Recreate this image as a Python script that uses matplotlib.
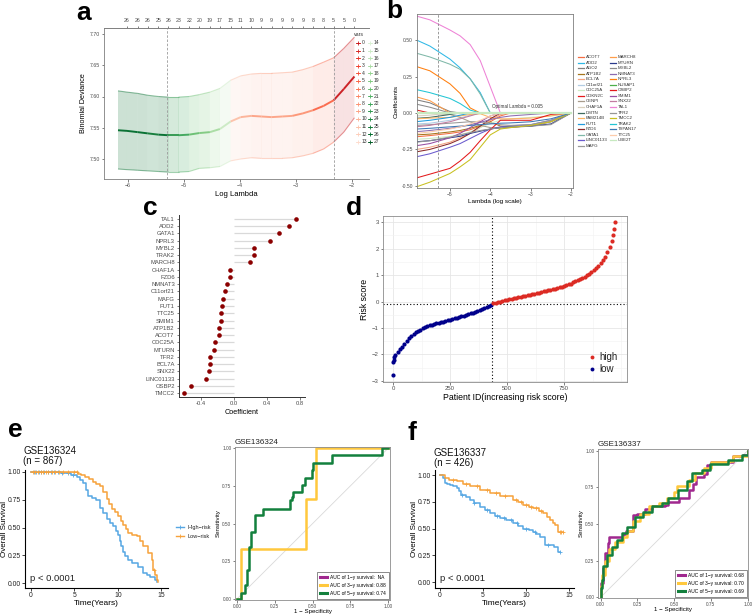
import numpy as np
import matplotlib
matplotlib.use('Agg')
import matplotlib.pyplot as plt
from matplotlib.collections import LineCollection
from matplotlib.lines import Line2D
from matplotlib.ticker import MultipleLocator

plt.rcParams['font.family'] = ['Liberation Sans', 'DejaVu Sans']
plt.rcParams['axes.unicode_minus'] = True

W, H = 752, 615
GRAY_TXT = '#4D4D4D'
GRAY_AX = '#7F7F7F'

# ─── Data: panel a (CV deviance) ─────────────────────────────────────────────
A_LOGLAM = [-6.18, -6.02, -5.83, -5.65, -5.46, -5.28, -5.10, -4.91, -4.73, -4.54, -4.36, -4.17,
            -3.99, -3.80, -3.62, -3.44, -3.25, -3.07, -2.88, -2.70, -2.51, -2.33, -2.15, -1.96]
A_NVARS = [26, 26, 26, 25, 26, 23, 22, 20, 19, 17, 15, 11, 10, 9, 9, 9, 9, 8, 8, 5, 5, 0, 0]
A_TOP_LABELS = [26, 26, 26, 25, 26, 23, 22, 20, 19, 17, 15, 11, 10, 9, 9, 9, 9, 9, 8, 8, 5, 5, 0]
A_MEAN = [7.546, 7.545, 7.543, 7.541, 7.539, 7.538, 7.538, 7.539, 7.5415, 7.543, 7.548, 7.560,
          7.567, 7.569, 7.568, 7.567, 7.568, 7.569, 7.573, 7.578, 7.585, 7.594, 7.612, 7.632]
A_UPPER = [7.609, 7.607, 7.605, 7.602, 7.600, 7.599, 7.599, 7.600, 7.603, 7.607, 7.613, 7.626,
           7.633, 7.636, 7.637, 7.637, 7.638, 7.639, 7.643, 7.648, 7.655, 7.662, 7.677, 7.695]
A_LOWER = [7.484, 7.483, 7.482, 7.481, 7.480, 7.479, 7.479, 7.480, 7.485, 7.486, 7.488, 7.497,
           7.500, 7.502, 7.501, 7.501, 7.501, 7.502, 7.505, 7.509, 7.516, 7.527, 7.543, 7.566]
A_VLINES = [-5.30, -2.33]

# ─── Data: panel b (coefficient paths) ───────────────────────────────────────
B_LOGLAM = [-5.82, -5.5, -5.0, -4.75, -4.5, -4.25, -4.0, -3.75, -3.5, -3.0, -2.5, -2.0]
B_GENES = ['ACOT7', 'ADD2', 'AGO2', 'ATP1B2', 'BCL7A', 'C11orf21', 'CDC25A', 'CDKN2C', 'CENPI',
           'CHAF1A', 'DMTN', 'FAM214B', 'FUT1', 'FZD6', 'GATA1', 'LINC01133', 'MAFG',
           'MARCH8', 'MTURN', 'MYBL2', 'NMNAT3', 'NPRL3', 'NUSAP1', 'OSBP2', 'SMIM1', 'SNX22',
           'TAL1', 'TFR2', 'TMCC2', 'TRAK2', 'TSPAN17', 'TTC25', 'UBE2T']
B_COLORS = ['#F46D43', '#2EB8E6', '#7F7F7F', '#A6761D', '#F4A582', '#B3CDE3', '#CCEBC5', '#E41A1C',
            '#A89C8C', '#D9D0BE', '#3F6B5E', '#FDB462', '#1F9BDE', '#8B2A2A', '#7FB8A8', '#6A5ACD',
            '#999999', '#FF9E4A', '#2B3A8C', '#8C8C8C', '#8C6BB1', '#FF7F0E', '#4DAF4A', '#E31A1C',
            '#984EA3', '#C27BA0', '#EE82D6', '#969696', '#C8C020', '#22C5D4', '#3C78B4', '#FDCDAC',
            '#C7E9C0']
B_PATHS = [
    [-0.163, -0.155, -0.14, -0.13, -0.115, -0.09, -0.06, -0.02, 0, 0, 0, 0],          # ACOT7
    [0.50, 0.46, 0.37, 0.31, 0.235, 0.14, 0.0, 0, 0, 0, 0, 0],                         # ADD2
    [0.09, 0.07, 0.01, 0, 0, 0, 0, 0, 0, 0, 0, 0],                                     # AGO2
    [-0.15, -0.145, -0.13, -0.12, -0.105, -0.085, -0.06, -0.09, -0.095, -0.09, -0.06, 0],  # ATP1B2
    [-0.25, -0.235, -0.20, -0.17, -0.14, -0.10, -0.05, -0.01, 0, 0, 0, 0],             # BCL7A
    [-0.075, -0.07, -0.05, -0.035, -0.015, 0, 0, 0, 0, 0, 0, 0],                       # C11orf21
    [-0.18, -0.175, -0.16, -0.15, -0.13, -0.10, -0.07, -0.05, -0.04, -0.03, -0.02, 0],  # CDC25A
    [0.02, 0, 0, 0, 0, 0, 0, 0, 0, 0, 0, 0],                                           # CDKN2C
    [0, 0, -0.01, -0.03, -0.06, -0.085, -0.10, -0.105, -0.10, -0.09, -0.06, 0],        # CENPI
    [-0.02, -0.015, 0, 0, 0, 0, 0, 0, 0, 0, 0, 0],                                     # CHAF1A
    [-0.036, -0.03, -0.01, 0, 0, 0, 0, 0, 0, 0, 0, 0],                                 # DMTN
    [-0.04, -0.035, -0.03, -0.02, -0.01, -0.005, -0.03, -0.04, -0.04, -0.035, -0.02, 0],  # FAM214B
    [-0.059, -0.05, -0.03, -0.015, 0, 0, 0, 0, 0, 0, 0, 0],                            # FUT1
    [-0.266, -0.25, -0.21, -0.18, -0.14, -0.09, -0.04, 0, 0, 0, 0, 0],                 # FZD6
    [0.41, 0.385, 0.335, 0.30, 0.235, 0.13, 0.0, 0, 0, 0, 0, 0],                       # GATA1
    [-0.30, -0.28, -0.235, -0.21, -0.175, -0.14, -0.11, -0.095, -0.088, -0.08, -0.05, 0],  # LINC01133
    [-0.085, -0.08, -0.07, -0.065, -0.06, -0.06, -0.07, -0.08, -0.085, -0.08, -0.05, 0],  # MAFG
    [0.11, 0.085, 0.0, 0, 0, 0, 0, 0, 0, 0, 0, 0],                                     # MARCH8
    [-0.197, -0.19, -0.17, -0.16, -0.14, -0.125, -0.11, -0.10, -0.095, -0.09, -0.075, 0],  # MTURN
    [0.06, 0.04, 0.0, 0, 0, 0, 0, 0, 0, 0, 0, 0],                                      # MYBL2
    [-0.128, -0.12, -0.105, -0.095, -0.08, -0.065, -0.045, -0.03, -0.02, -0.01, 0, 0],  # NMNAT3
    [0.318, 0.29, 0.20, 0.135, 0.035, 0, 0, 0, 0, 0, 0, 0],                            # NPRL3
    [0, 0, 0, 0, 0, 0, 0, 0, 0, 0, 0, 0],                                              # NUSAP1
    [-0.445, -0.42, -0.38, -0.33, -0.27, -0.19, -0.115, -0.05, -0.05, -0.05, -0.01, 0],  # OSBP2
    [-0.224, -0.21, -0.17, -0.14, -0.10, -0.06, -0.02, 0, 0, 0, 0, 0],                 # SMIM1
    [-0.094, -0.085, -0.06, -0.04, -0.02, 0, 0, 0, 0, 0, 0, 0],                        # SNX22
    [0.665, 0.64, 0.57, 0.53, 0.47, 0.36, 0.18, 0.0, 0, 0, 0, 0],                      # TAL1
    [-0.20, -0.19, -0.165, -0.15, -0.135, -0.12, -0.11, -0.10, -0.095, -0.09, -0.08, 0],  # TFR2
    [-0.506, -0.475, -0.415, -0.37, -0.32, -0.235, -0.15, -0.11, -0.10, -0.085, -0.06, 0],  # TMCC2
    [0.16, 0.14, 0.10, 0.065, 0.02, 0, 0, 0, 0, 0, 0, 0],                              # TRAK2
    [-0.11, -0.105, -0.095, -0.09, -0.085, -0.08, -0.075, -0.07, -0.068, -0.06, -0.04, 0],  # TSPAN17
    [-0.14, -0.13, -0.11, -0.095, -0.075, -0.05, -0.02, 0, 0, 0, 0, 0],                # TTC25
    [0, 0, 0, 0, 0, 0, 0, 0, 0, 0, 0, 0],                                              # UBE2T
]
B_OPT_LOGLAM = -5.30

# ─── Data: panel c (final coefficients) ──────────────────────────────────────
C_GENES = ['TAL1', 'ADD2', 'GATA1', 'NPRL3', 'MYBL2', 'TRAK2', 'MARCH8', 'CHAF1A', 'FZD6',
           'NMNAT3', 'C11orf21', 'MAFG', 'FUT1', 'TTC25', 'SMIM1', 'ATP1B2', 'ACOT7', 'CDC25A',
           'MTURN', 'TFR2', 'BCL7A', 'SNX22', 'LINC01133', 'OSBP2', 'TMCC2']
C_COEF = [0.748, 0.67, 0.54, 0.436, 0.246, 0.242, 0.19, -0.048, -0.052, -0.081, -0.109, -0.137,
          -0.145, -0.154, -0.158, -0.178, -0.186, -0.23, -0.242, -0.287, -0.29, -0.30, -0.34,
          -0.52, -0.606]

# ─── Data: panel d (risk score) ──────────────────────────────────────────────
D_LOW_ID = [0, 2, 4, 6, 10, 20, 30, 40, 50, 60, 70, 80, 90, 100, 110, 120, 130, 140, 150, 160,
            170, 180, 190, 200, 210, 220, 230, 240, 250, 260, 270, 280, 290, 300, 310, 320, 330,
            340, 350, 360, 370, 380, 390, 400, 410, 420, 430]
D_LOW_SCORE = [-2.77, -2.30, -2.20, -2.10, -2.01, -1.90, -1.81, -1.70, -1.59, -1.48, -1.38, -1.29,
               -1.22, -1.16, -1.11, -1.06, -1.01, -0.97, -0.93, -0.90, -0.87, -0.84, -0.82, -0.80,
               -0.78, -0.76, -0.74, -0.71, -0.69, -0.66, -0.64, -0.61, -0.59, -0.56, -0.54, -0.51,
               -0.48, -0.45, -0.42, -0.39, -0.35, -0.32, -0.28, -0.25, -0.21, -0.17, -0.12]
D_HIGH_ID = [440, 450, 460, 470, 480, 490, 500, 510, 520, 530, 540, 550, 560, 570, 580, 590, 600,
             610, 620, 630, 640, 650, 660, 670, 680, 690, 700, 710, 720, 730, 740, 750, 760, 770,
             780, 790, 800, 810, 820, 830, 840, 850, 860, 870, 880, 890, 900, 910, 920, 930, 940,
             950, 960, 965, 970, 974]
D_HIGH_SCORE = [-0.06, -0.04, -0.02, 0.0, 0.02, 0.04, 0.06, 0.08, 0.10, 0.12, 0.14, 0.16, 0.18,
                0.20, 0.22, 0.24, 0.26, 0.28, 0.30, 0.32, 0.34, 0.36, 0.38, 0.40, 0.42, 0.44,
                0.46, 0.48, 0.51, 0.53, 0.56, 0.59, 0.62, 0.65, 0.68, 0.72, 0.76, 0.80, 0.84,
                0.89, 0.94, 0.99, 1.05, 1.11, 1.18, 1.26, 1.35, 1.45, 1.57, 1.70, 1.86, 2.05,
                2.30, 2.50, 2.75, 3.00]
D_CUT_ID = 434
D_CUT_SCORE = -0.08

# ─── Data: panels e/f (Kaplan-Meier) ─────────────────────────────────────────
E_HIGH_T = [0, 3.5, 4.1, 4.6, 5.25, 5.6, 6.0, 6.3, 6.6, 7.0, 7.5, 7.9, 8.3, 8.7, 9.1, 9.46, 9.8,
            10.0, 10.2, 10.4, 10.6, 10.8, 11.2, 11.6, 12.3, 12.9, 13.3, 13.7, 14.25, 14.5]
E_HIGH_S = [1, 0.995, 0.99, 0.975, 0.958, 0.93, 0.90, 0.84, 0.78, 0.765, 0.75, 0.675, 0.63, 0.58,
            0.545, 0.51, 0.47, 0.43, 0.38, 0.33, 0.28, 0.24, 0.21, 0.18, 0.147, 0.087, 0.07, 0.057,
            0.027, 0.01]
E_LOW_T = [0, 5.44, 5.8, 6.2, 6.7, 7.16, 7.5, 7.9, 8.3, 8.7, 9.0, 9.27, 9.6, 10.0, 10.3, 10.6,
           10.9, 11.2, 11.6, 12.15, 12.5, 12.9, 13.4, 13.87, 14.06, 14.3, 14.45, 14.6]
E_LOW_S = [1, 0.985, 0.97, 0.958, 0.935, 0.91, 0.89, 0.87, 0.82, 0.76, 0.71, 0.67, 0.64, 0.60,
           0.56, 0.52, 0.49, 0.45, 0.43, 0.42, 0.38, 0.33, 0.27, 0.21, 0.117, 0.07, 0.03, 0.01]
E_CENS_HIGH = [0.3, 0.6, 0.9, 1.2, 1.5, 1.9, 2.3, 2.7, 3.1, 3.6, 4.2, 4.8]
E_CENS_LOW = [0.2, 0.5, 0.8, 1.1, 1.4, 1.7, 2.0, 2.4, 2.8, 3.2, 3.7, 4.3, 4.9, 5.3, 14.1]

F_HIGH_T = [0, 0.39, 0.58, 0.8, 1.16, 1.5, 1.94, 2.2, 2.5, 3.0, 3.5, 4.0, 4.65, 5.2, 5.8, 6.4, 7.0,
            7.7, 8.5, 9.1, 9.7, 10.3, 10.85, 11.2, 11.6, 12.2, 13.2, 13.75, 14.0]
F_HIGH_S = [1, 0.97, 0.925, 0.915, 0.91, 0.895, 0.88, 0.85, 0.815, 0.79, 0.77, 0.74, 0.705, 0.675,
            0.645, 0.62, 0.60, 0.575, 0.55, 0.525, 0.50, 0.485, 0.47, 0.45, 0.425, 0.347, 0.33,
            0.284, 0.284]
F_LOW_T = [0, 0.58, 1.0, 1.94, 2.7, 3.5, 4.65, 5.8, 7.0, 8.5, 9.1, 9.7, 10.3, 10.85, 11.5, 12.0,
           12.4, 12.8, 13.1, 13.4, 13.75, 14.3]
F_LOW_S = [1, 0.97, 0.955, 0.94, 0.915, 0.893, 0.86, 0.83, 0.80, 0.77, 0.745, 0.72, 0.705, 0.69,
           0.665, 0.645, 0.61, 0.58, 0.555, 0.53, 0.47, 0.47]
F_CENS_HIGH = [2.6, 4.0, 5.5, 6.6, 7.4, 8.2, 9.0, 10.0, 11.0, 12.6, 13.9]
F_CENS_LOW = [1.5, 3.0, 4.3, 5.5, 6.5, 7.6, 8.8, 9.4, 10.0, 10.6, 11.2, 11.8, 13.9, 14.1, 14.3]

# ─── Data: panels e/f (time-dependent ROC, step corners) ─────────────────────
E_ROC3_FPR = [0, 0.03, 0.46, 0.52, 1.0]
E_ROC3_TPR = [0, 0.333, 0.667, 1.0, 1.0]
E_ROC5_FPR = [0, 0.03, 0.053, 0.068, 0.079, 0.093, 0.119, 0.174, 0.35, 0.362, 0.373, 0.432, 0.45,
              0.499, 0.505, 0.63, 0.96, 1.0]
E_ROC5_TPR = [0, 0.042, 0.093, 0.19, 0.347, 0.447, 0.557, 0.60, 0.657, 0.68, 0.712, 0.756, 0.80,
              0.856, 0.90, 0.955, 1.0, 1.0]
E_AUC = ['NA', '0.88', '0.74']

F_ROC1_FPR = [0, 0.005, 0.015, 0.03, 0.05, 0.06, 0.13, 0.15, 0.17, 0.22, 0.25, 0.30, 0.35, 0.44,
              0.46, 0.53, 0.60, 0.63, 0.65, 0.70, 0.72, 0.75, 0.88, 0.90, 0.97, 1.0]
F_ROC1_TPR = [0, 0.10, 0.20, 0.30, 0.37, 0.41, 0.41, 0.43, 0.45, 0.56, 0.57, 0.60, 0.62, 0.63,
              0.65, 0.68, 0.73, 0.77, 0.82, 0.84, 0.90, 0.92, 0.92, 0.96, 0.97, 1.0]
F_ROC3_FPR = [0, 0.005, 0.01, 0.03, 0.06, 0.10, 0.15, 0.18, 0.22, 0.27, 0.33, 0.40, 0.45, 0.50,
              0.52, 0.56, 0.60, 0.64, 0.70, 0.75, 0.87, 0.90, 1.0, 1.0]
F_ROC3_TPR = [0, 0.08, 0.15, 0.25, 0.33, 0.38, 0.41, 0.45, 0.52, 0.57, 0.62, 0.64, 0.68, 0.72,
              0.76, 0.76, 0.80, 0.85, 0.88, 0.92, 0.93, 0.96, 0.97, 1.0]
F_ROC5_FPR = [0, 0.003, 0.007, 0.018, 0.04, 0.075, 0.109, 0.143, 0.177, 0.233, 0.29, 0.347, 0.415,
              0.46, 0.528, 0.585, 0.62, 0.687, 0.744, 0.868, 0.96, 1.0]
F_ROC5_TPR = [0, 0.06, 0.118, 0.21, 0.29, 0.345, 0.39, 0.436, 0.48, 0.55, 0.58, 0.62, 0.64, 0.675,
              0.73, 0.79, 0.845, 0.87, 0.91, 0.935, 0.97, 1.0]
F_AUC = ['0.68', '0.70', '0.69']

KM_BLUE = '#56A7E3'
KM_ORANGE = '#F7A23B'
ROC_PURPLE = '#A0288F'
ROC_YELLOW = '#FFC83D'
ROC_GREEN = '#13803D'


# ─── Helpers ─────────────────────────────────────────────────────────────────

def px_axes(fig, x0, y0, x1, y1):
    """Axes placed by pixel box (top-left origin)."""
    return fig.add_axes([x0 / W, 1 - y1 / H, (x1 - x0) / W, (y1 - y0) / H])


def style_small(ax, size=4.0, color=GRAY_AX):
    for s in ax.spines.values():
        s.set_color(color)
        s.set_linewidth(0.6)
    ax.tick_params(labelsize=size, colors=GRAY_TXT, length=1.8, width=0.5, pad=1.2)


def nvars_color(n):
    if n <= 13:
        return plt.cm.Reds(0.75 - n * 0.047)
    return plt.cm.Greens(0.18 + (n - 14) * 0.058)


def step_value(times, surv, t):
    idx = np.searchsorted(times, t, side='right') - 1
    return np.asarray(surv)[idx]


# ─── Panels ──────────────────────────────────────────────────────────────────

def panel_a(fig, ov):
    ax = px_axes(fig, 104, 28, 369, 179)
    lam = np.array(A_LOGLAM)
    knot_n = [26] + A_NVARS
    cols = [nvars_color(n) for n in knot_n]
    for i in range(len(lam) - 1):
        alpha = 0.2 if knot_n[i + 1] >= 14 else 0.12
        ax.fill_between(lam[i:i + 2], A_LOWER[i:i + 2], A_UPPER[i:i + 2],
                        color=cols[i + 1], alpha=alpha, lw=0, edgecolor='none')
    for series, lw, al in [(A_UPPER, 0.8, 0.45), (A_LOWER, 0.8, 0.45), (A_MEAN, 1.4, 0.95)]:
        pts = np.column_stack([lam, series])
        segs = np.stack([pts[:-1], pts[1:]], axis=1)
        ax.add_collection(LineCollection(segs, colors=cols[1:], linewidths=lw, alpha=al))
    for v in A_VLINES:
        ax.axvline(v, color='#9A9A9A', lw=0.6, ls=(0, (3, 2)))
    ax.set_xlim(-6.43, -1.70)
    ax.set_ylim(7.468, 7.7096)
    ax.set_xticks([-6, -5, -4, -3, -2])
    ax.set_yticks([7.50, 7.55, 7.60, 7.65, 7.70])
    ax.set_yticklabels(['7.50', '7.55', '7.60', '7.65', '7.70'])
    ax.set_xlabel('Log Lambda', fontsize=5.5, labelpad=2)
    ax.set_ylabel('Binomial Deviance', fontsize=5.2, labelpad=2)
    style_small(ax, 3.8)
    ax.spines['right'].set_visible(False)
    top = ax.secondary_xaxis('top')
    top.set_xticks(A_LOGLAM[1:])
    top.set_xticklabels([str(v) for v in A_TOP_LABELS])
    top.tick_params(labelsize=3.8, colors=GRAY_TXT, length=1.8, width=0.5, pad=1.5)
    top.spines['top'].set_color(GRAY_AX)
    top.spines['top'].set_linewidth(0.6)

    # legend "vars"
    ov.text(354, 35, 'vars', fontsize=3.8, color='#333333', va='center')
    for i in range(14):
        y = 43 + 7.6 * i
        for n, xm in [(i, 358), (i + 14, 370)]:
            c = nvars_color(n)
            ov.plot([xm - 2.2, xm + 2.2], [y, y], color=c, lw=0.6)
            ov.plot([xm], [y], marker='+', color=c, ms=2.6, mew=0.6)
            ov.text(xm + 4, y, str(n), fontsize=3.6, color='#333333', va='center')


def panel_b(fig, ov):
    ax = px_axes(fig, 417, 14, 573, 188)
    for gene, col, path in zip(B_GENES, B_COLORS, B_PATHS):
        lw = 1.6 if gene == 'UBE2T' else 0.75
        ax.plot(B_LOGLAM, path, color=col, lw=lw, zorder=3 if gene == 'UBE2T' else 2)
    ax.axvline(B_OPT_LOGLAM, color='#8A8A8A', lw=0.6, ls=(0, (3, 2)))
    ax.text(-3.96, 0.035, 'Optimal Lambda = 0.005', fontsize=3.3, color='#333333')
    ax.set_xlim(-5.818, -1.95)
    ax.set_ylim(-0.515, 0.68)
    ax.set_xticks([-5, -4, -3, -2])
    ax.set_yticks([-0.5, -0.25, 0, 0.25, 0.5])
    ax.set_yticklabels(['-0.50', '-0.25', '0.00', '0.25', '0.50'])
    ax.set_xlabel('Lambda (log scale)', fontsize=4.6, labelpad=1.5)
    ax.set_ylabel('Coefficients', fontsize=4.6, labelpad=2)
    style_small(ax, 3.6)

    # two-column legend
    half = 17
    for i, (gene, col) in enumerate(zip(B_GENES, B_COLORS)):
        colx = 578 if i < half else 610
        row = i if i < half else i - half
        y = 57 + 5.56 * row
        ov.plot([colx, colx + 6], [y, y], color=col, lw=0.9)
        ov.text(colx + 8, y, gene, fontsize=3.2, color='#333333', va='center')


def panel_c(fig):
    ax = px_axes(fig, 179, 215, 305, 397)
    n = len(C_GENES)
    ypos = np.arange(n)[::-1]
    ax.hlines(ypos, np.minimum(0, C_COEF), np.maximum(0, C_COEF), color='#D9D9D9', lw=0.9, zorder=1)
    ax.scatter(C_COEF, ypos, s=11, color='#8B0000', zorder=3, linewidths=0)
    ax.set_yticks(ypos)
    ax.set_yticklabels(C_GENES)
    ax.set_xticks([-0.4, 0.0, 0.4, 0.8])
    ax.set_xticklabels(['-0.4', '0.0', '0.4', '0.8'])
    ax.set_xlim(-0.667, 0.86)
    ax.set_ylim(-0.55, n - 1 + 0.55)
    ax.set_xlabel('Coefficient', fontsize=5.2, labelpad=2)
    ax.spines['top'].set_visible(False)
    ax.spines['right'].set_visible(False)
    for s in ['left', 'bottom']:
        ax.spines[s].set_color('#333333')
        ax.spines[s].set_linewidth(0.7)
    ax.tick_params(labelsize=4.2, colors=GRAY_TXT, length=1.8, width=0.5, pad=1.2)


def panel_d(fig, ov):
    ax = px_axes(fig, 383, 216, 627, 382)
    ax.scatter(D_LOW_ID, D_LOW_SCORE, s=9, color='#00008B', linewidths=0, zorder=3)
    ax.scatter(D_HIGH_ID, D_HIGH_SCORE, s=9, color='#DC2B24', linewidths=0, zorder=3)
    ax.axvline(D_CUT_ID, color='black', lw=0.8, ls=(0, (1, 2)))
    ax.axhline(D_CUT_SCORE, color='black', lw=0.8, ls=(0, (1, 2)))
    ax.set_xlim(-44, 1026)
    ax.set_ylim(-3.04, 3.23)
    ax.set_xticks([0, 250, 500, 750])
    ax.set_yticks([-3, -2, -1, 0, 1, 2, 3])
    ax.xaxis.set_minor_locator(MultipleLocator(125))
    ax.yaxis.set_minor_locator(MultipleLocator(0.5))
    ax.grid(which='major', color='#E6E6E6', lw=0.6)
    ax.grid(which='minor', color='#F2F2F2', lw=0.4)
    ax.set_axisbelow(True)
    ax.set_xlabel('Patient ID(increasing risk score)', fontsize=6.3, labelpad=1.5)
    ax.set_ylabel('Risk score', fontsize=6.3, labelpad=2)
    style_small(ax, 4.3, '#8C8C8C')
    ax.tick_params(which='minor', length=0)
    for y, lab, c in [(357, 'high', '#DC2B24'), (369, 'low', '#00008B')]:
        ov.plot([592], [y], marker='o', ms=2.8, color=c, mew=0)
        ov.text(599, y, lab, fontsize=7, color='#222222', va='center')


def panel_km(fig, ov, box, xlim, ylim, hi, lo, cens, title, title_xy, ptxt, ylab_x):
    ax = px_axes(fig, *box)
    for (t, s), cs, col in [(hi, cens[0], KM_BLUE), (lo, cens[1], KM_ORANGE)]:
        ax.step(t, s, where='post', color=col, lw=1.1)
        ax.plot(cs, step_value(t, s, cs), ls='none', marker='+', ms=2.6, mew=0.6, color=col)
    ax.set_xlim(*xlim)
    ax.set_ylim(*ylim)
    ax.set_xticks([0, 5, 10, 15])
    ax.set_yticks([0, 0.25, 0.5, 0.75, 1.0])
    ax.set_yticklabels(['0.00', '0.25', '0.50', '0.75', '1.00'])
    ax.spines['top'].set_visible(False)
    ax.spines['right'].set_visible(False)
    for s in ['left', 'bottom']:
        ax.spines[s].set_linewidth(0.8)
    ax.tick_params(labelsize=4.9, colors='#222222', length=2, width=0.6, pad=1)
    ax.set_xlabel('Time(Years)', fontsize=6.0, labelpad=0.5)
    ax.set_ylabel('Overall Survival', fontsize=5.8)
    # right edge of the rotated label, in pixels from the axes' left
    ax.yaxis.set_label_coords(ylab_x / (box[2] - box[0]), 0.5)
    ax.text(0.035, 0.06, ptxt, transform=ax.transAxes, fontsize=6.8, color='#222222')
    ov.text(title_xy[0], title_xy[1], title[0], fontsize=7, va='center', color='#111111')
    ov.text(title_xy[0], title_xy[1] + 10, title[1], fontsize=7, va='center', color='#111111')
    return ax


def panel_roc(fig, box, xlim, ylim, curves, aucs, title):
    ax = px_axes(fig, *box)
    ax.plot([0, 1], [0, 1], color='#D9D9D9', lw=0.6, zorder=1)
    handles = []
    labels = []
    for (fpr, tpr), col, yr, auc in zip(curves, [ROC_PURPLE, ROC_YELLOW, ROC_GREEN], [1, 3, 5], aucs):
        if fpr is not None:
            ax.step(fpr, tpr, where='post', color=col, lw=1.8, zorder=2)
        handles.append(Line2D([], [], color=col, lw=2.2))
        sep = ':  ' if auc == 'NA' else ': '
        labels.append('AUC of %d\u2212y survival%s%s' % (yr, sep, auc))
    leg = ax.legend(handles, labels, loc='lower right', fontsize=3.5, handlelength=1.4,
                    handletextpad=0.6, labelspacing=0.65, borderpad=0.6, borderaxespad=0.25,
                    frameon=True, fancybox=False)
    leg.get_frame().set_edgecolor('#333333')
    leg.get_frame().set_linewidth(0.5)
    ax.set_xlim(*xlim)
    ax.set_ylim(*ylim)
    ticks = [0, 0.25, 0.5, 0.75, 1.0]
    tl = ['0.00', '0.25', '0.50', '0.75', '1.00']
    ax.set_xticks(ticks)
    ax.set_xticklabels(tl)
    ax.set_yticks(ticks)
    ax.set_yticklabels(tl)
    ax.set_xlabel('1 \u2212 Specificity', fontsize=4.4, labelpad=0.5)
    ax.set_ylabel('Sensitivity', fontsize=4.4, labelpad=1)
    ax.set_title(title, fontsize=5.8, loc='left', pad=2.5, color='#222222')
    style_small(ax, 3.4, '#8C8C8C')
    ax.tick_params(pad=0.8)
    return ax


# ─── Main ────────────────────────────────────────────────────────────────────

if __name__ == "__main__":
    fig = plt.figure(figsize=(W / 100, H / 100), dpi=100)
    fig.patch.set_facecolor('white')

    ov = fig.add_axes([0, 0, 1, 1], zorder=10)
    ov.set_xlim(0, W)
    ov.set_ylim(H, 0)
    ov.axis('off')
    ov.patch.set_alpha(0)

    panel_a(fig, ov)
    panel_b(fig, ov)
    panel_c(fig)
    panel_d(fig, ov)

    panel_km(fig, ov, (25, 470, 168, 588), (-0.69, 15.75), (-0.045, 1.018),
             (E_HIGH_T, E_HIGH_S), (E_LOW_T, E_LOW_S), (E_CENS_HIGH, E_CENS_LOW),
             ('GSE136324', '(n = 867)'), (23, 451), 'p < 0.0001', -16.5)
    for y, lab, c in [(527, 'High\u2212risk', KM_BLUE), (536, 'Low\u2212risk', KM_ORANGE)]:
        ov.plot([176, 184], [y, y], color=c, lw=1.0)
        ov.plot([180], [y], marker='+', color=c, ms=2.4, mew=0.6)
        ov.text(187, y, lab, fontsize=4.0, va='center', color='#222222')
    panel_roc(fig, (235, 447, 390, 600), (-0.013, 1.013), (-0.007, 1.009),
              [(None, None), (E_ROC3_FPR, E_ROC3_TPR), (E_ROC5_FPR, E_ROC5_TPR)],
              E_AUC, 'GSE136324')

    panel_km(fig, ov, (435, 470, 574, 588), (-0.58, 15.58), (-0.056, 1.047),
             (F_HIGH_T, F_HIGH_S), (F_LOW_T, F_LOW_S), (F_CENS_HIGH, F_CENS_LOW),
             ('GSE136337', '(n = 426)'), (434, 453), 'p < 0.0001', -17)
    panel_roc(fig, (598, 449, 748, 598), (-0.018, 1.002), (-0.005, 1.011),
              [(F_ROC1_FPR, F_ROC1_TPR), (F_ROC3_FPR, F_ROC3_TPR), (F_ROC5_FPR, F_ROC5_TPR)],
              F_AUC, 'GSE136337')

    for x, y, lab in [(76, 20, 'a'), (386, 18, 'b'), (143, 215, 'c'), (346, 215, 'd'),
                      (8, 437, 'e'), (407, 440, 'f')]:
        ov.text(x, y, lab, fontsize=19, fontweight='bold', va='baseline', ha='left')

    fig.savefig('out.png', dpi=100, facecolor='white')
